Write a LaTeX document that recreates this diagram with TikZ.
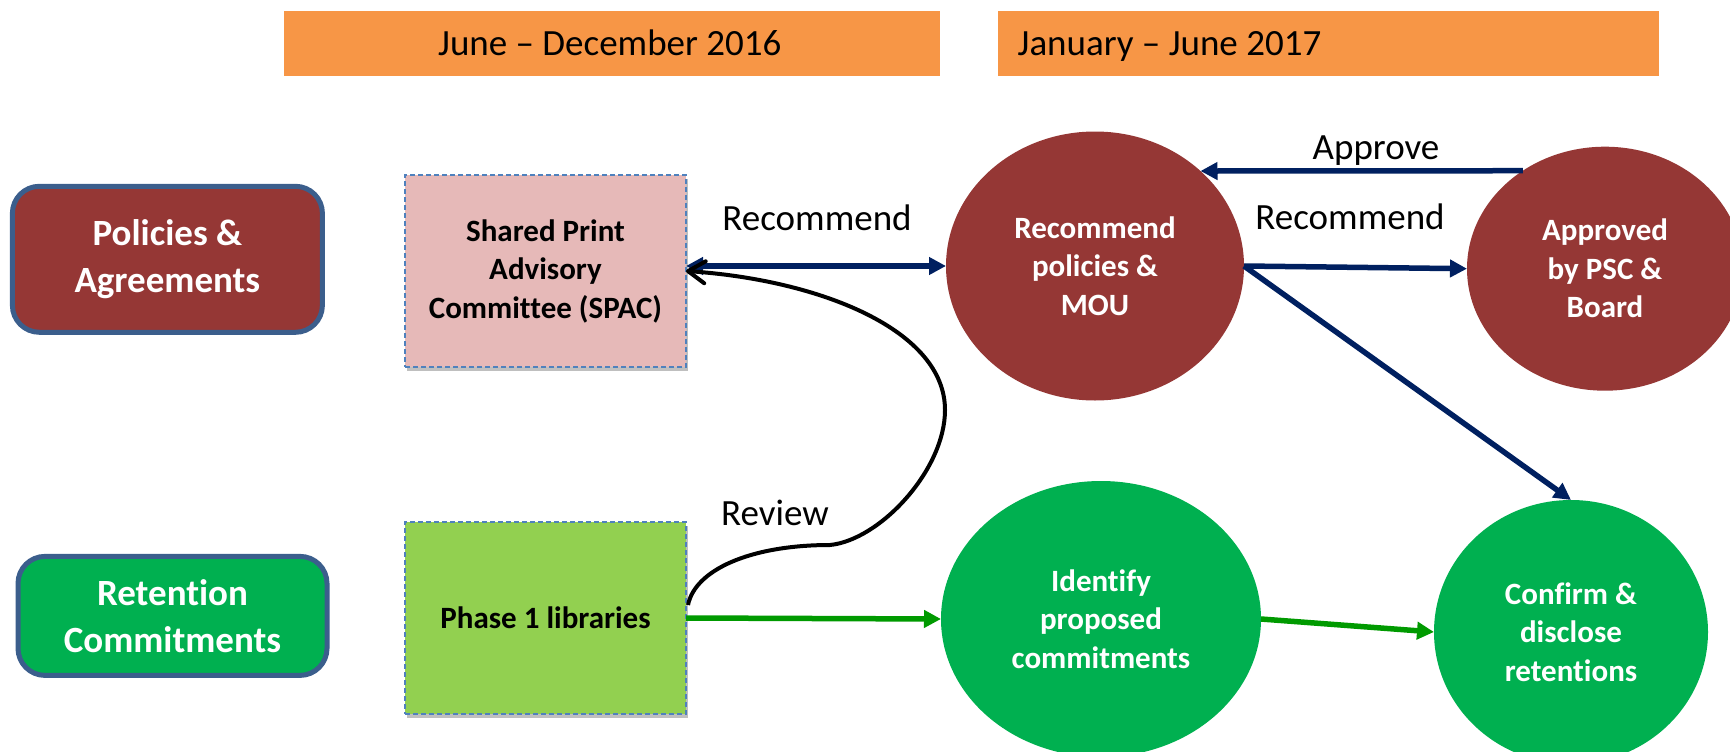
\documentclass[tikz,border=0pt]{standalone}
\usepackage{fontspec}
\setmainfont{Carlito}[Ligatures=NoCommon]
\usetikzlibrary{shapes.geometric,arrows.meta,shadows,calc}
\definecolor{barorange}{HTML}{F79646}
\definecolor{darkred}{HTML}{953735}
\definecolor{boxgreen}{HTML}{00B050}
\definecolor{edgeblue}{HTML}{3B5E8C}
\definecolor{dashblue}{HTML}{4F81BD}
\definecolor{pinkfill}{HTML}{E6B9B8}
\definecolor{limefill}{HTML}{92D050}
\definecolor{navyline}{HTML}{002060}
\definecolor{arrowgreen}{HTML}{009A00}
\begin{document}
\begin{tikzpicture}[x=1pt,y=-1pt,
  bar/.style={rectangle,fill=barorange,draw=none,minimum width=#1,minimum height=65pt,inner sep=0pt,outer sep=0pt},
  bartext/.style={anchor=base west,inner sep=0pt,font=\fontsize{37}{45}\selectfont},
  lbl/.style={anchor=base,inner sep=0pt,font=\fontsize{37}{45}\selectfont},
  catbox/.style={rectangle,rounded corners=27pt,draw=edgeblue,line width=5pt,text=white,align=center,
    font=\fontsize{37}{47}\selectfont\bfseries,inner sep=0pt,outer sep=0pt},
  dbox/.style={rectangle,draw=dashblue,line width=1.5pt,dash pattern=on 5pt off 3pt,align=center,
    font=\fontsize{31}{38.5}\selectfont\bfseries,minimum width=281pt,minimum height=192pt,inner sep=0pt,outer sep=0pt,
    drop shadow={shadow xshift=2pt,shadow yshift=-4pt,opacity=0.25,fill=black}},
  ell/.style={ellipse,draw=none,text=white,align=center,font=\fontsize{31}{38.5}\selectfont\bfseries,inner sep=0pt,outer sep=0pt},
  navyarrow/.style={draw=navyline,line width=5.5pt,-{Triangle[length=17pt,width=17pt]}},
  greenarrow/.style={draw=arrowgreen,line width=5.5pt,-{Triangle[length=17pt,width=17pt]}},
  reviewcurve/.style={draw=black,line width=4pt,-{Straight Barb[length=17pt,width=22pt,round]}}
]
\useasboundingbox (0,0) rectangle (1730,752);
\clip (0,0) rectangle (1730,752);

% header bars
\node[bar=656.5pt] (bar1) at (612.2,43.5) {};
\node[bar=660.5pt] (bar2) at (1328.3,43.5) {};
\node[bartext] (bar1txt) at (438,56) {June – December 2016};
\node[bartext] (bar2txt) at (1017.5,56) {January – June 2017};

% category boxes
\node[catbox,fill=darkred,minimum width=310pt,minimum height=146pt] (pol) at (167.4,259.3) {Policies \&\\Agreements};
\node[catbox,fill=boxgreen,minimum width=309pt,minimum height=119pt] (ret) at (172.5,615.9) {Retention\\Commitments};

% dashed boxes
\node[dbox,fill=pinkfill] (spac) at (545.5,271) {Shared Print\\Advisory\\Committee (SPAC)};
\node[dbox,fill=limefill] (phase) at (545.5,618) {Phase 1 libraries};

% ellipses
\node[ell,fill=darkred,minimum width=298pt,minimum height=269pt] (e1) at (1095,266) {Recommend\\policies \&\\MOU};
\node[ell,fill=darkred,minimum width=276pt,minimum height=244pt] (e2) at (1605,268.7) {Approved\\by PSC \&\\Board};
\node[ell,fill=boxgreen,minimum width=320pt,minimum height=276pt] (e3) at (1101,619) {Identify\\proposed\\commitments};
\node[ell,fill=boxgreen,minimum width=274pt,minimum height=264pt] (e4) at (1571,632) {Confirm \&\\disclose\\retentions};

% labels
\node[lbl] (lrec1) at (817,230) {Recommend};
\node[lbl] (lrec2) at (1350,229) {Recommend};
\node[lbl] (lapp) at (1376,159) {Approve};
\node[lbl] (lrev) at (775,525) {Review};

% connectors
\draw[navyarrow,{Triangle[length=17pt,width=17pt]}-{Triangle[length=17pt,width=17pt]}] (e1.west -| spac.east) -- (e1.west);
\draw[navyarrow] (e1.east) -- (e2.west);
\draw[navyarrow] (e2.130) -- (e1.42);
\draw[navyarrow] (e1.east) -- (e4.north);
\draw[greenarrow] (phase.east) -- (e3.west);
\draw[greenarrow] (e3.east) -- (e4.west);
\draw[reviewcurve] ($(phase.east)+(2,-13)$) .. controls (695,570) and (750,545) .. (830,545)
  .. controls (880,540) and (945,470) .. (945,410)
  .. controls (945,330) and (820,280) .. (spac.east);
\end{tikzpicture}
\end{document}
